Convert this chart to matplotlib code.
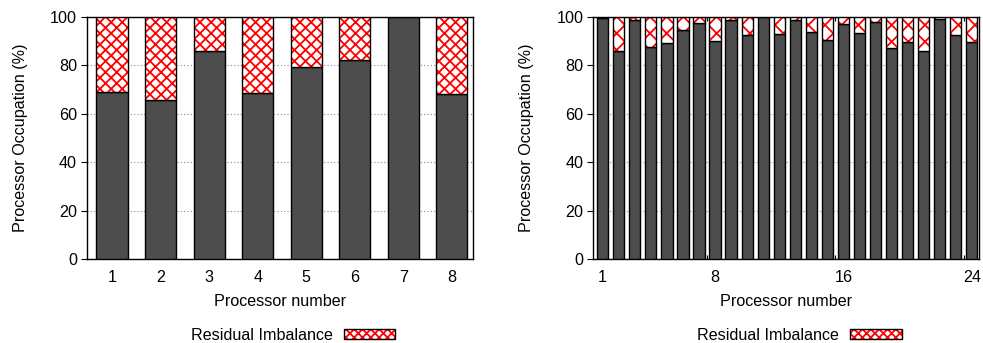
import matplotlib
matplotlib.use("Agg")
import matplotlib.pyplot as plt
from matplotlib.patches import Patch
import numpy as np

plt.rcParams['font.family'] = ['Liberation Sans', 'DejaVu Sans']
plt.rcParams['font.size'] = 11.6
plt.rcParams['hatch.linewidth'] = 1.3

# Occupation (%) per processor, 8-processor run
procs_8 = list(range(1, 9))
occupation_8 = [68.8, 65.7, 85.9, 68.7, 79.1, 82.2, 100.0, 68.1]
xticks_8 = [1, 2, 3, 4, 5, 6, 7, 8]

# Occupation (%) per processor, 24-processor run
procs_24 = list(range(1, 25))
occupation_24 = [99.6, 86.0, 98.8, 87.5, 89.3, 94.5, 97.4, 90.2, 98.6, 92.3,
                 100.0, 92.9, 98.6, 93.7, 90.4, 97.0, 93.3, 97.8, 87.2, 89.6,
                 85.7, 98.9, 92.5, 89.5]
xticks_24 = [1, 8, 16, 24]

yticks = [0, 20, 40, 60, 80, 100]

DARK = '#4d4d4d'
RED = '#ff0000'

fig = plt.figure(figsize=(9.83, 3.43), dpi=100)
ax1 = fig.add_axes([0.0882, 0.244, 0.481 - 0.0882, 0.707])
ax2 = fig.add_axes([0.6036, 0.244, 0.996 - 0.6036, 0.707])


def draw(ax, procs, occ, width, hatch, xlim, xticks):
    occ = np.asarray(occ)
    resid = 100.0 - occ
    ax.bar(procs, occ, width=width, color=DARK, edgecolor='black',
           linewidth=1.0, zorder=3)
    # hatched residual part: red hatch, then black outline on top
    ax.bar(procs, resid, bottom=occ, width=width, facecolor='white',
           edgecolor=RED, hatch=hatch, linewidth=0, zorder=3)
    ax.bar(procs, resid, bottom=occ, width=width, facecolor='none',
           edgecolor='black', linewidth=1.0, zorder=4)
    ax.set_xlim(*xlim)
    ax.set_ylim(0, 100)
    ax.set_yticks(yticks)
    ax.set_xticks(xticks)
    ax.tick_params(axis='y', direction='out', length=4.5, width=0.8, pad=2.5)
    ax.tick_params(axis='x', length=0, pad=8)
    ax.yaxis.grid(True, linestyle=(0, (1, 2)), color='#8a8a8a', linewidth=0.8,
                  zorder=0)
    ax.set_axisbelow(True)
    for s in ax.spines.values():
        s.set_linewidth(1.0)
    ax.set_xlabel('Processor number', labelpad=6)
    ax.set_ylabel('Processor Occupation (%)', labelpad=16)

    handle = (Patch(facecolor='white', edgecolor=RED, hatch='xxxx', linewidth=0),
              Patch(facecolor='none', edgecolor='black', linewidth=1.0))
    ax.legend([handle], ['Residual Imbalance'], loc='upper center',
              bbox_to_anchor=(0.534, -0.255), frameon=False, markerfirst=False,
              handlelength=3.2, handleheight=0.6, handletextpad=0.7,
              borderaxespad=0)


draw(ax1, procs_8, occupation_8, 0.64, 'xxx', (0.479, 8.432), xticks_8)
draw(ax2, procs_24, occupation_24, 0.70, 'xx', (0.414, 24.455), xticks_24)

# small inward marks between groups of eight processors
ax2.set_xticks([7.5, 15.5, 23.5], minor=True)
ax2.tick_params(axis='x', which='minor', direction='in', length=3, width=0.8,
                top=True, bottom=True)

fig.savefig('out.png', dpi=100)
